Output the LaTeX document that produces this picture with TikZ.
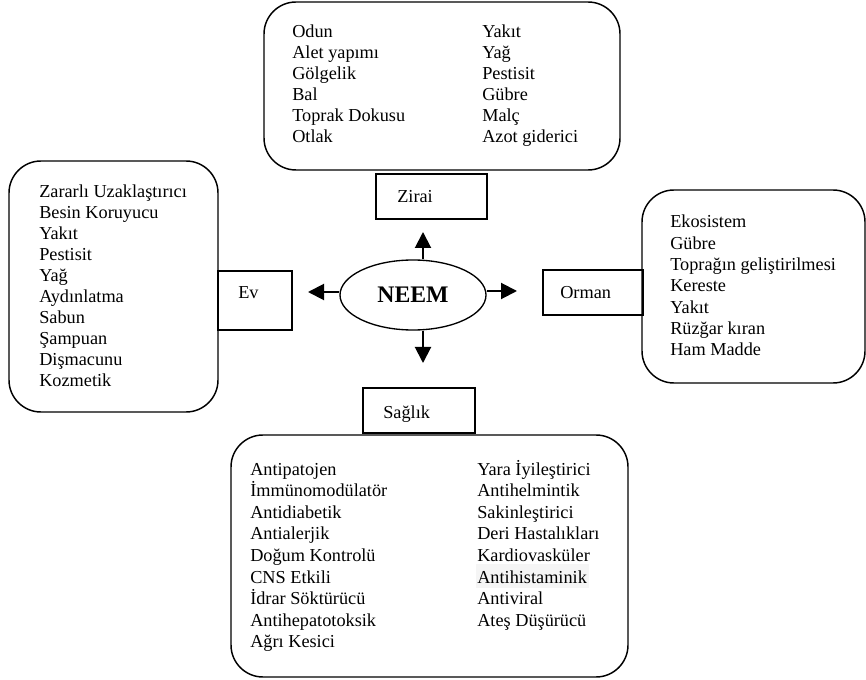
\documentclass[tikz,border=0pt]{standalone}
\usepackage{fontspec}
\setmainfont{Liberation Serif}
\usetikzlibrary{arrows.meta,shapes.geometric}

\begin{document}
\begin{tikzpicture}[x=0.75pt,y=-0.75pt]
  \tikzset{panel/.style = {draw,line width=1.1pt,rounded corners=24pt}}
  \tikzset{tab/.style = {draw,line width=1.3pt}}
  \tikzset{item/.style = {anchor=base west,inner sep=0pt,font=\fontsize{13.7}{16}\selectfont}}
  \tikzset{hub/.style = {shape=ellipse,draw,line width=1pt,inner sep=0pt,minimum width=109.5pt,minimum height=52.5pt,font=\bfseries\fontsize{17.8}{20}\selectfont}}
  \tikzset{spoke/.style = {-{Triangle[length=12pt,width=12pt]},line width=1.5pt}}
  \useasboundingbox (0,0) rectangle (866,680);

  % big panels
  \draw[panel] (264,2) rectangle (620,170);
  \draw[panel] (9,161) rectangle (218,412);
  \draw[panel] (642,190) rectangle (865,383);
  \draw[panel] (231,435) rectangle (628,677);
  \fill[black!4] (476,564) rectangle (589,588);

  % small tabs
  \draw[tab] (376,174) rectangle (487,219);
  \draw[tab] (218,271) rectangle (292,330);
  \draw[tab] (543,270) rectangle (643,315);
  \draw[tab] (363,388) rectangle (475,433);
  \node[item] (zirai) at (397,203) {Zirai};
  \node[item] (ev) at (238,299) {Ev};
  \node[item] (orman) at (560,299) {Orman};
  \node[item] (saglik) at (383,418) {Sağlık};

  \node[hub] (neem) at (413,295) {NEEM};
  \coordinate (up) at (423,232);
  \coordinate (down) at (423,363);
  \coordinate (left) at (308,292);
  \coordinate (right) at (517,291);
  \draw[spoke] ([xshift=7.5pt]neem.north) -- (up);
  \draw[spoke] ([xshift=7.5pt]neem.south) -- (down);
  \draw[spoke] ([yshift=2.25pt]neem.west) -- (left);
  \draw[spoke] ([yshift=3pt]neem.east) -- (right);

  \foreach \t [count=\i] in {Odun,Alet yapımı,Gölgelik,Bal,Toprak Dokusu,Otlak}
    \node[item] (za\i) at (292,{38+21*(\i-1)}) {\t};
  \foreach \t [count=\i] in {Yakıt,Yağ,Pestisit,Gübre,Malç,Azot giderici}
    \node[item] (zb\i) at (482,{38+21*(\i-1)}) {\t};
  \foreach \t [count=\i] in {Zararlı Uzaklaştırıcı,Besin Koruyucu,Yakıt,Pestisit,Yağ,Aydınlatma,Sabun,Şampuan,Dişmacunu,Kozmetik}
    \node[item] (ev\i) at (39,{198+20.9*(\i-1)}) {\t};
  \foreach \t [count=\i] in {Ekosistem,Gübre,Toprağın geliştirilmesi,Kereste,Yakıt,Rüzğar kıran,Ham Madde}
    \node[item] (or\i) at (670,{228+21.3*(\i-1)}) {\t};
  \foreach \t [count=\i] in {Antipatojen,İmmünomodülatör,Antidiabetik,Antialerjik,Doğum Kontrolü,CNS Etkili,İdrar Söktürücü,Antihepatotoksik,Ağrı Kesici}
    \node[item] (sa\i) at (250,{475+21.6*(\i-1)}) {\t};
  \foreach \t [count=\i] in {Yara İyileştirici,Antihelmintik,Sakinleştirici,Deri Hastalıkları,Kardiovasküler,Antihistaminik,Antiviral,Ateş Düşürücü}
    \node[item] (sb\i) at (477,{475+21.6*(\i-1)}) {\t};
\end{tikzpicture}
\end{document}
